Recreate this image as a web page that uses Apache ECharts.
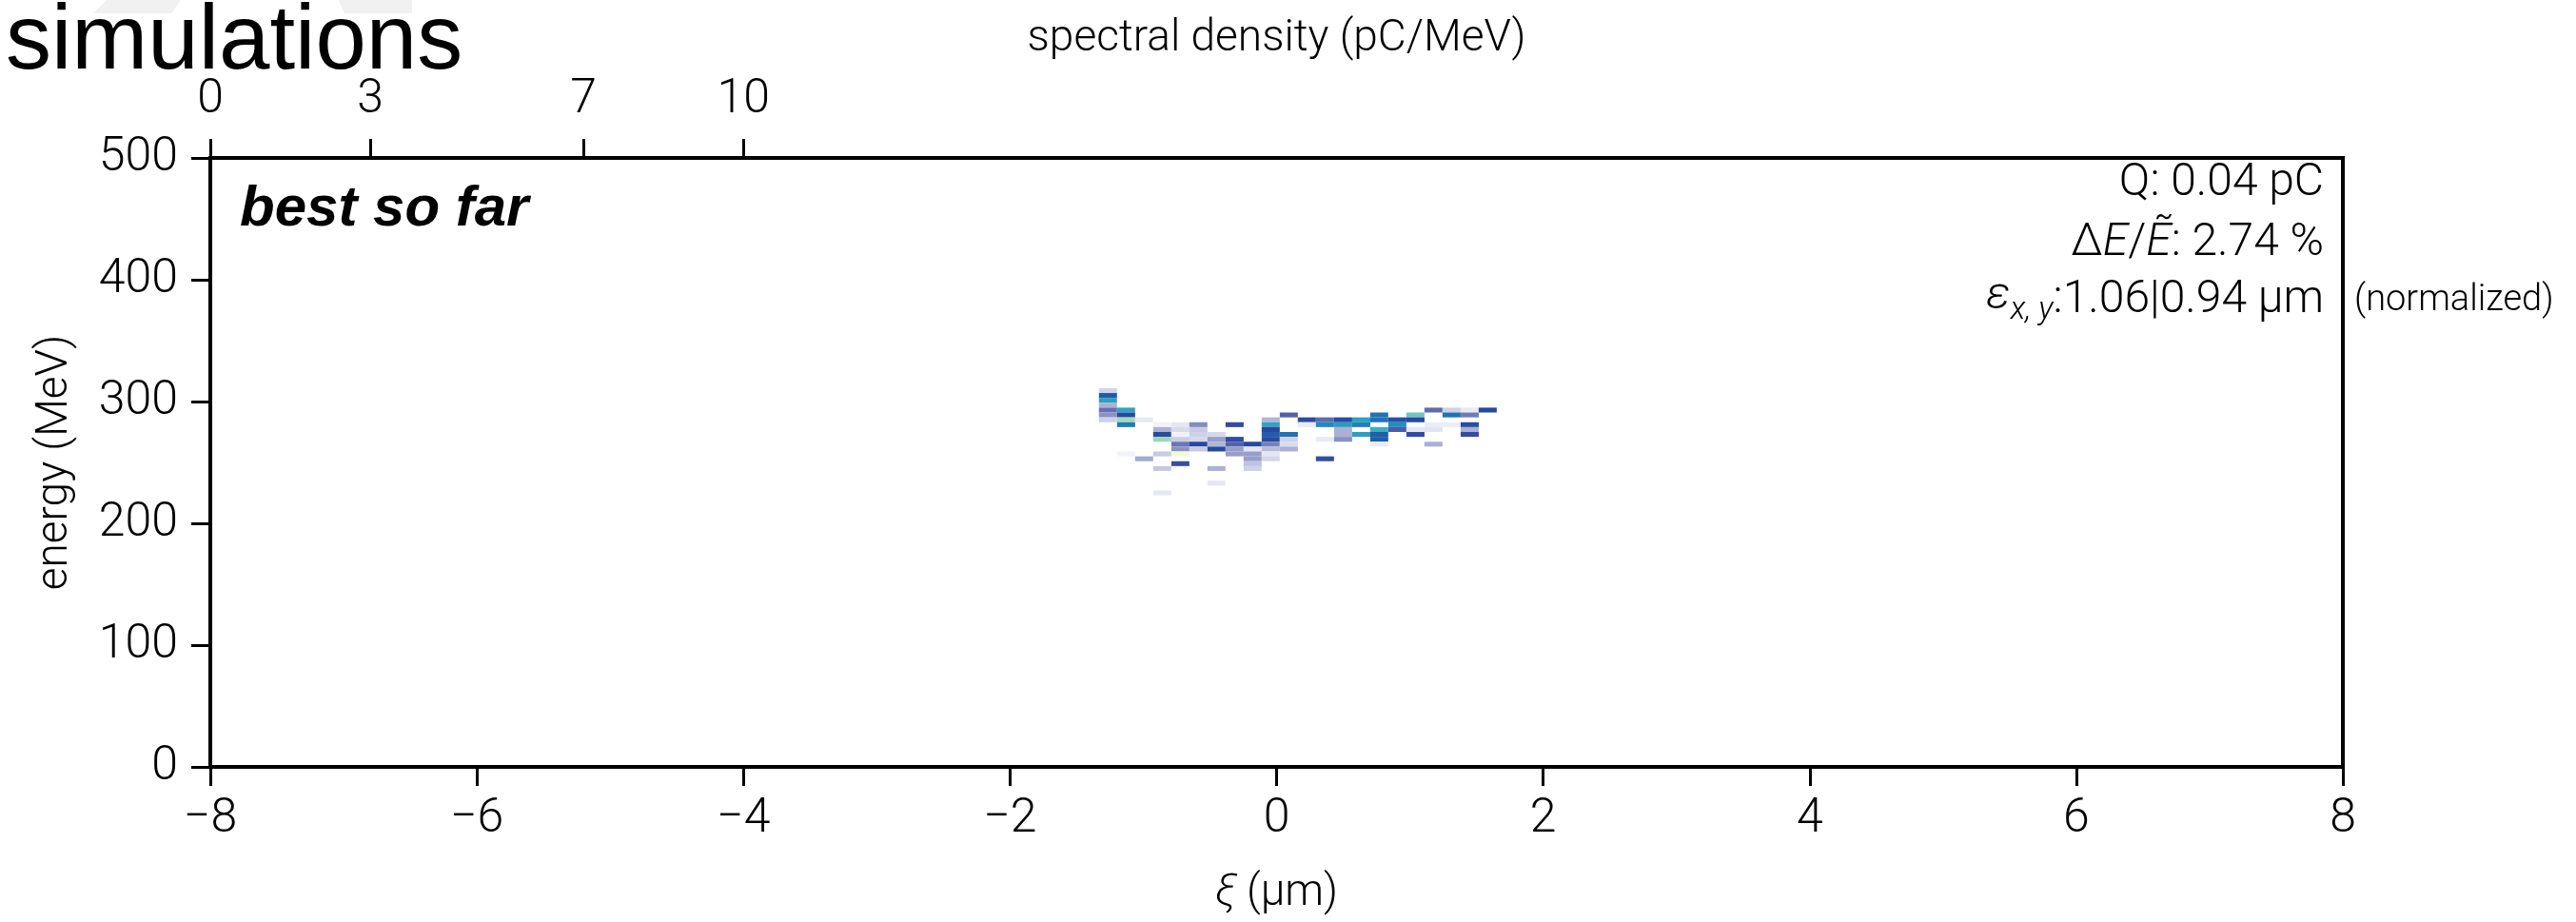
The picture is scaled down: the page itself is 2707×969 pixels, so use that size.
<!DOCTYPE html>
<html><head><meta charset="utf-8">
<script src="https://cdn.jsdelivr.net/npm/echarts@6/dist/echarts.min.js"></script>
<style>html,body{margin:0;padding:0;background:#fff}#c{width:2707px;height:969px}</style>
</head><body><div id="c"></div>
<script>
// ---- data ----
const xiTicks = [-8, -6, -4, -2, 0, 2, 4, 6, 8];          // μm
const energyTicks = [0, 100, 200, 300, 400, 500];        // MeV
const densityTicks = [0, 3, 7, 10];                      // pC/MeV (top axis)
const xiBinWidth = 0.1357;     // μm
const energyBinWidth = 4;      // MeV

// bin centres (ξ in μm, E in MeV) and charge density (arb. u., 0..1)
const cellXi = [
  -1.265,-1.265,-1.265,-1.265,-1.265,-1.265,-1.265,
  -1.129,-1.129,-1.129,-1.129,-1.129,
  -0.994,-0.994,
  -0.858,-0.858,-0.858,-0.858,-0.858,-0.858,-0.858,
  -0.722,-0.722,-0.722,-0.722,-0.722,-0.722,-0.722,-0.722,
  -0.587,-0.587,-0.587,-0.587,-0.587,-0.587,
  -0.451,-0.451,-0.451,-0.451,-0.451,-0.451,
  -0.315,-0.315,-0.315,-0.315,-0.315,
  -0.180,-0.180,-0.180,-0.180,-0.180,-0.180,
  -0.044,-0.044,-0.044,-0.044,-0.044,-0.044,-0.044,-0.044,-0.044,
  0.092,0.092,0.092,0.092,0.092,
  0.227,0.227,
  0.363,0.363,0.363,0.363,
  0.499,0.499,0.499,0.499,0.499,
  0.635,0.635,0.635,
  0.770,0.770,0.770,0.770,0.770,0.770,
  0.906,0.906,0.906,
  1.042,1.042,1.042,1.042,
  1.177,1.177,1.177,1.177,
  1.313,1.313,1.313,
  1.449,1.449,1.449,1.449,1.449,
  1.584
];
const cellE = [
  309,305,301,297,293,289,285,
  293,289,285,281,257,
  285,253,
  281,277,273,269,257,245,225,
  281,277,273,269,265,261,257,249,
  281,277,273,269,265,261,
  273,269,265,261,245,233,
  281,269,265,261,257,
  265,261,257,253,249,245,
  285,281,277,273,269,265,261,257,253,
  289,273,269,265,261,
  285,281,
  285,281,269,253,
  285,281,277,273,269,
  285,281,273,
  289,285,277,273,269,265,
  285,281,277,
  289,285,277,273,
  293,281,277,265,
  293,289,281,
  293,289,281,277,273,
  293
];
const cellQ = [
  0.07,0.48,0.64,0.13,0.24,0.18,0.075,
  0.65,0.40,0.85,0.56,0.02,
  0.035,0.14,
  0.02,0.13,0.42,0.84,0.085,0.09,0.04,
  0.04,0.06,0.02,0.08,0.23,0.18,0.98,0.33,
  0.19,0.085,0.075,0.065,0.40,0.085,
  0.065,0.16,0.12,0.40,0.13,0.04,
  0.36,0.36,0.27,0.16,0.16,
  0.40,0.045,0.16,0.16,0.10,0.075,
  0.12,0.65,0.40,0.50,0.42,0.21,0.11,0.04,0.065,
  0.27,0.54,0.075,0.055,0.13,
  0.38,0.035,
  0.25,0.59,0.035,0.36,
  0.42,0.63,0.13,0.13,0.18,
  0.64,0.57,0.64,
  0.54,0.54,0.68,0.50,0.50,0.035,
  0.45,0.60,0.28,
  0.77,0.40,0.04,0.36,
  0.25,0.03,0.045,0.13,
  0.075,0.54,0.03,
  0.035,0.22,0.42,0.13,0.36,
  0.40
];

// ---- styling ----
const FONT = 'Roboto, "Liberation Sans", sans-serif';
const colormap = ['#ffffff','#bec2df','#7d86bb','#434fa3','#2848a0','#225ea8',
                  '#1d91c0','#41b6c4','#7fcdbb','#c7e9b4','#ffffd9'];
const cells = cellXi.map((x, i) => [x, cellE[i], cellQ[i]]);

const labelStyle = {color: '#000', fontSize: 50, fontFamily: FONT, fontWeight: 300};
const tickStyle = {show: true, length: 20, lineStyle: {color: '#000', width: 3}};
const lineStyle = {show: true, onZero: false, lineStyle: {color: '#000', width: 4}};

const chart = echarts.init(document.getElementById('c'), null, {renderer: 'canvas'});
chart.setOption({
  backgroundColor: '#fff',
  animation: false,
  grid: {left: 221, right: 245, top: 166, bottom: 163, show: true,
         borderColor: '#000', borderWidth: 4, backgroundColor: 'transparent'},
  xAxis: [{
    type: 'value', position: 'bottom', min: xiTicks[0], max: xiTicks[xiTicks.length - 1],
    interval: xiTicks[1] - xiTicks[0],
    axisLine: lineStyle, axisTick: tickStyle, splitLine: {show: false},
    axisLabel: Object.assign({margin: 30, showMinLabel: true, showMaxLabel: true,
      formatter: v => String(v).replace('-', '\u2212')}, labelStyle),
    name: '{i|ξ} (μm)', nameLocation: 'middle', nameGap: 110,
    nameTextStyle: {color: '#000', fontSize: 46, fontFamily: FONT, fontWeight: 300,
      rich: {i: {fontStyle: 'italic', fontSize: 46, fontFamily: FONT, fontWeight: 300, color: '#000'}}}
  }, {
    type: 'value', position: 'top', min: 0, max: 40,
    axisLine: lineStyle,
    axisTick: Object.assign({customValues: densityTicks}, tickStyle),
    axisLabel: Object.assign({margin: 36, customValues: densityTicks}, labelStyle),
    splitLine: {show: false},
    name: 'spectral density (pC/MeV)', nameLocation: 'middle', nameGap: 102,
    nameTextStyle: {color: '#000', fontSize: 46, fontFamily: FONT, fontWeight: 300}
  }],
  yAxis: [{
    type: 'value', position: 'left', min: energyTicks[0], max: energyTicks[energyTicks.length - 1],
    interval: energyTicks[1] - energyTicks[0],
    axisLine: lineStyle, axisTick: tickStyle, splitLine: {show: false},
    axisLabel: Object.assign({margin: 34, showMinLabel: true, showMaxLabel: true}, labelStyle),
    name: 'energy (MeV)', nameLocation: 'middle', nameGap: 140,
    nameTextStyle: {color: '#000', fontSize: 46, fontFamily: FONT, fontWeight: 300}
  }, {
    type: 'value', position: 'right', min: 0, max: 500,
    axisLine: lineStyle, axisTick: {show: false}, axisLabel: {show: false}, splitLine: {show: false}
  }],
  visualMap: {
    type: 'continuous', show: false, min: 0, max: 1, dimension: 2, seriesIndex: 0,
    inRange: {color: colormap}
  },
  series: [{
    type: 'custom', xAxisIndex: 0, yAxisIndex: 0, data: cells,
    renderItem: function (params, api) {
      const xi = api.value(0), e = api.value(1);
      const p0 = api.coord([xi - xiBinWidth / 2, e + energyBinWidth / 2]);
      const p1 = api.coord([xi + xiBinWidth / 2, e - energyBinWidth / 2]);
      return {type: 'rect',
        shape: {x: p0[0], y: p0[1], width: p1[0] - p0[0], height: p1[1] - p0[1]},
        style: {fill: api.visual('color')}};
    }
  }],
  graphic: [
    {type: 'polygon', shape: {points: [[112, 0], [190, 0], [180, 14], [98, 14]]}, style: {fill: '#f1f1f1'}, z: -1},
    {type: 'polygon', shape: {points: [[356, 0], [433, 0], [433, 14], [362, 14]]}, style: {fill: '#f1f1f1'}, z: -1},
    {type: 'text', left: 6, top: -2, style: {text: 'simulations', fill: '#000',
      font: '400 96px "Liberation Sans", sans-serif'}},
    {type: 'text', left: 252, top: 190, style: {text: 'best so far', fill: '#000',
      font: 'italic bold 60px "Liberation Sans", sans-serif'}},
    {type: 'text', x: 2442, y: 193, style: {text: 'Q: 0.04 pC', fill: '#000',
      font: '300 48px ' + FONT, textAlign: 'right', textVerticalAlign: 'middle'}},
    {type: 'text', x: 2442, y: 256, style: {text: 'Δ{i|E}/{i|Ẽ}: 2.74 %', fill: '#000',
      font: '300 48px ' + FONT, textAlign: 'right', textVerticalAlign: 'middle',
      rich: {i: {fontStyle: 'italic', fontSize: 48, fontFamily: FONT, fontWeight: 300}}}},
    {type: 'text', x: 2442, y: 316, style: {text: '{i|ε}{sub|x, y}:1.06|0.94 μm', fill: '#000',
      font: '300 48px ' + FONT, textAlign: 'right', textVerticalAlign: 'middle',
      rich: {i: {fontStyle: 'italic', fontSize: 48, fontFamily: FONT, fontWeight: 300, lineHeight: 56, verticalAlign: 'top'},
             sub: {fontStyle: 'italic', fontSize: 33, fontFamily: FONT, fontWeight: 300, lineHeight: 56, padding: [22, 0, 0, 0], verticalAlign: 'top'}}}},
    {type: 'text', x: 2474, y: 316, style: {text: '(normalized)', fill: '#000',
      font: '300 38px ' + FONT, textAlign: 'left', textVerticalAlign: 'middle'}}
  ]
});
</script></body></html>
